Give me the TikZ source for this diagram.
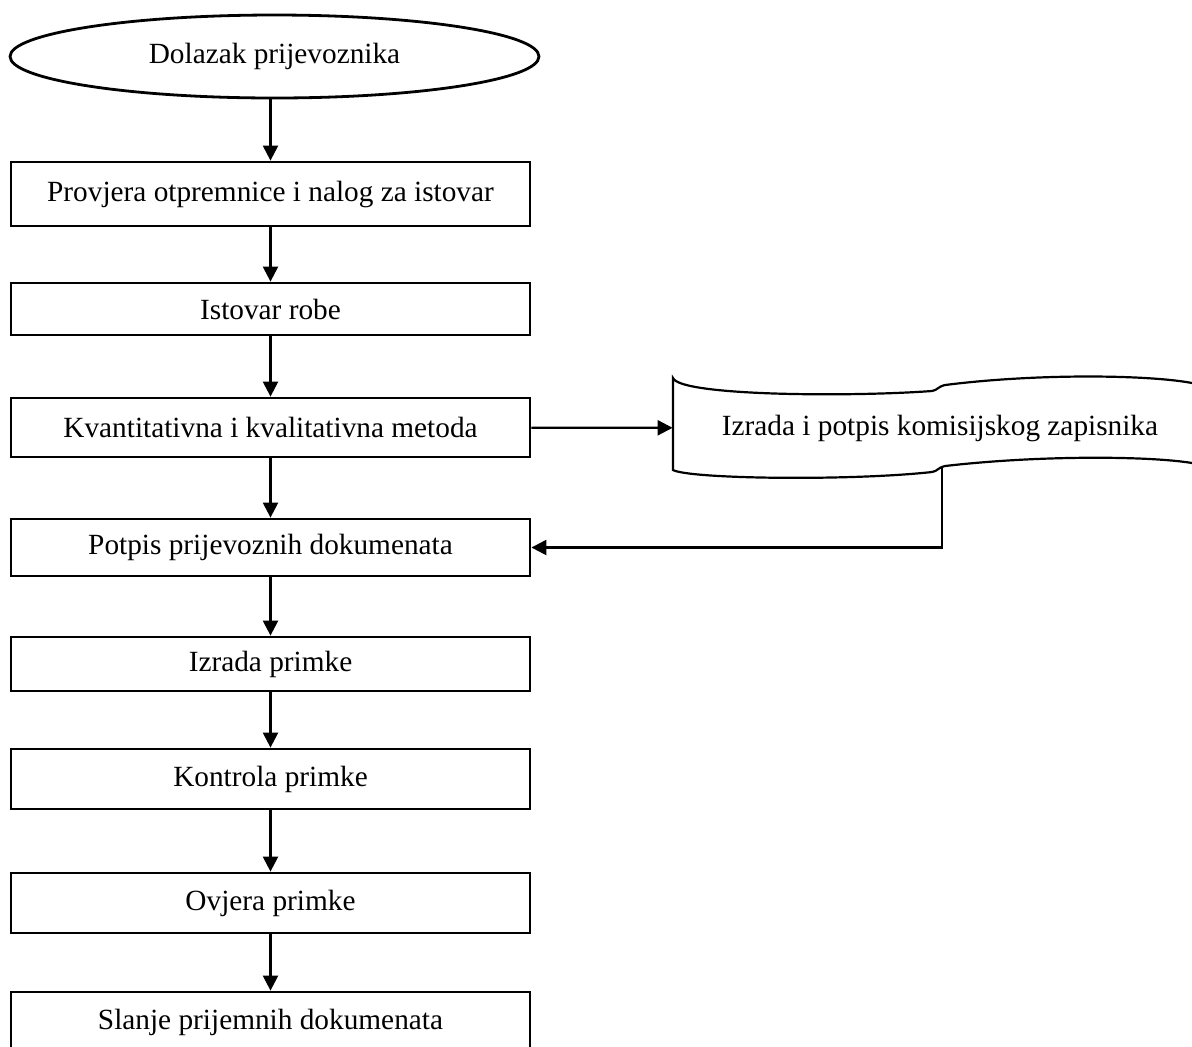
\documentclass[tikz,border=0pt]{standalone}
\usepackage{fontspec}
\setmainfont{Liberation Serif}
\usetikzlibrary{shapes.geometric,arrows.meta}
\tikzset{
  txt/.style={font=\fontsize{14.65}{17}\selectfont, inner sep=0pt},
  box/.style={txt, draw, line width=1.4pt, minimum width=259.5pt},
  arr/.style={line width=1.15pt, -{Triangle[length=7.5pt,width=7.5pt]}},
}
\begin{document}
\begin{tikzpicture}[x=0.5pt,y=-0.5pt]
  \useasboundingbox (0,0) rectangle (1192,1046);
  \node[box, ellipse, minimum width=264.5pt, minimum height=41.5pt] (start) at (274.5,56.5) {Dolazak prijevoznika};
  \node[box, minimum height=32pt] (b1) at (270.5,194) {Provjera otpremnice i nalog za istovar};
  \node[box, minimum height=26pt] (b2) at (270.5,309) {Istovar robe};
  \node[box, minimum height=29.5pt] (b3) at (270.5,427.5) {Kvantitativna i kvalitativna metoda};
  \node[box, minimum height=28.5pt] (b4) at (270.5,547.5) {Potpis prijevoznih dokumenata};
  \node[box, minimum height=27pt] (b5) at (270.5,664) {Izrada primke};
  \node[box, minimum height=30pt] (b6) at (270.5,779) {Kontrola primke};
  \node[box, minimum height=30pt] (b7) at (270.5,903) {Ovjera primke};
  \node[box, minimum height=30pt] (b8) at (270.5,1022) {Slanje prijemnih dokumenata};
  % zapisnik (punched tape)
  \node[txt, minimum width=267pt] (doc) at (940,428) {Izrada i potpis komisijskog zapisnika};
  \draw[line width=1.1pt] (1192,383) .. controls (1150,375) and (1040,373) .. (945,385)
    .. controls (937,387) and (938,390) .. (932,391)
    .. controls (850,397) and (680,396) .. (673,378)
    -- (673,470)
    .. controls (690,479) and (850,481) .. (932,472)
    .. controls (938,471) and (937,468) .. (945,466)
    .. controls (1040,455) and (1150,456) .. (1192,463);
  \coordinate (docout) at (942,467);
  % tok
  \draw[arr] (start.south -| b1) -- (b1);
  \foreach \a/\b in {b1/b2, b2/b3, b3/b4, b4/b5, b5/b6, b6/b7, b7/b8}
    \draw[arr] (\a) -- (\b);
  \draw[arr] (b3) -- (doc);
  \draw[arr] (docout) |- (b4);
\end{tikzpicture}
\end{document}
